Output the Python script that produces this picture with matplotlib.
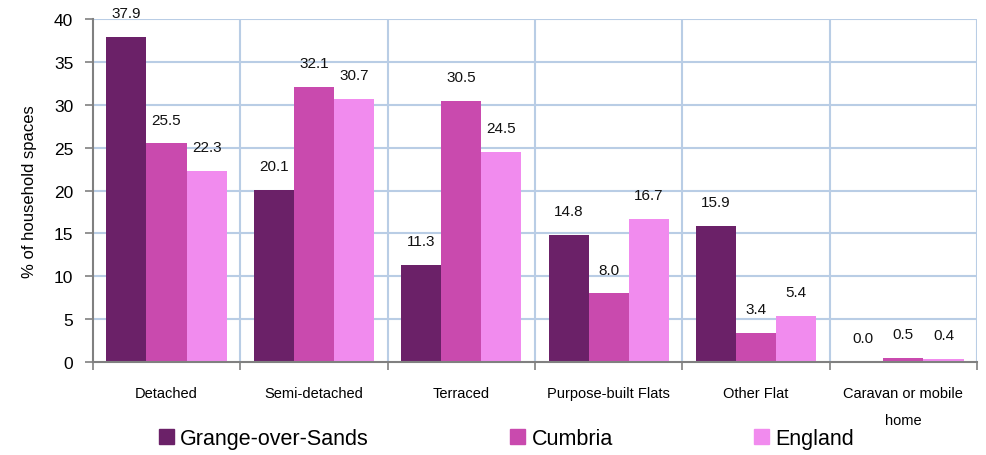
import matplotlib
matplotlib.use("Agg")
import matplotlib.pyplot as plt
import numpy as np
from matplotlib.patches import Patch

plt.rcParams['font.family'] = ['Liberation Sans', 'DejaVu Sans']

# Data
categories = ["Detached", "Semi-detached", "Terraced", "Purpose-built Flats",
              "Other Flat", "Caravan or mobile\nhome"]
series_names = ["Grange-over-Sands", "Cumbria", "England"]
grange = [37.9, 20.1, 11.3, 14.8, 15.9, 0.0]
cumbria = [25.5, 32.1, 30.5, 8.0, 3.4, 0.5]
england = [22.3, 30.7, 24.5, 16.7, 5.4, 0.4]
colors = ["#6B2168", "#C94AAE", "#F18BEE"]

fig = plt.figure(figsize=(9.87, 4.56), dpi=100)
ax = fig.add_axes([0.094, 0.204, 0.896, 0.752])

x = np.arange(len(categories))
w = 0.272
grid_col = "#B9CDE5"

for i, vals in enumerate([grange, cumbria, england]):
    pos = x + (i - 1) * w
    ax.bar(pos, vals, width=w, color=colors[i], zorder=3)
    for px, v in zip(pos, vals):
        ax.annotate(f"{v:.1f}", (px, v), xytext=(0, 17), textcoords="offset points",
                    ha="center", va="center", fontsize=11, color="#111111")

ax.set_xlim(-0.5, len(categories) - 0.5)
ax.set_ylim(0, 40)
ax.set_yticks(np.arange(0, 41, 5))

# grid lines
for yv in np.arange(5, 41, 5):
    ax.axhline(yv, color=grid_col, lw=1.5, zorder=1)
for xv in np.arange(0.5, len(categories), 1):
    ax.axvline(xv, color=grid_col, lw=1.5, zorder=1)

ax.set_xticks(np.arange(-0.5, len(categories), 1))
ax.set_xticklabels([])
ax.set_xticks(x, minor=True)
ax.set_xticklabels(categories, minor=True, fontsize=10.5, linespacing=2.2)
ax.tick_params(axis="x", which="minor", length=0, pad=17)
ax.tick_params(axis="x", which="major", length=6, color="#808080", width=1.2)
ax.tick_params(axis="y", length=6, color="#808080", width=1.2, labelsize=12.5, pad=8)

for s in ["top", "right"]:
    ax.spines[s].set_visible(False)
for s in ["left", "bottom"]:
    ax.spines[s].set_color("#808080")
    ax.spines[s].set_linewidth(1.5)
    ax.spines[s].set_zorder(4)

ax.set_ylabel("% of household spaces", fontsize=12, labelpad=12)

handles = [Patch(color=c) for c in colors]
fig.legend(handles, series_names, loc="center", bbox_to_anchor=(0.513, 0.037),
           ncol=3, frameon=False, fontsize=15.5, handlelength=0.7, handleheight=0.7,
           handletextpad=0.3, columnspacing=6.55)

fig.savefig("out.png", dpi=100)
